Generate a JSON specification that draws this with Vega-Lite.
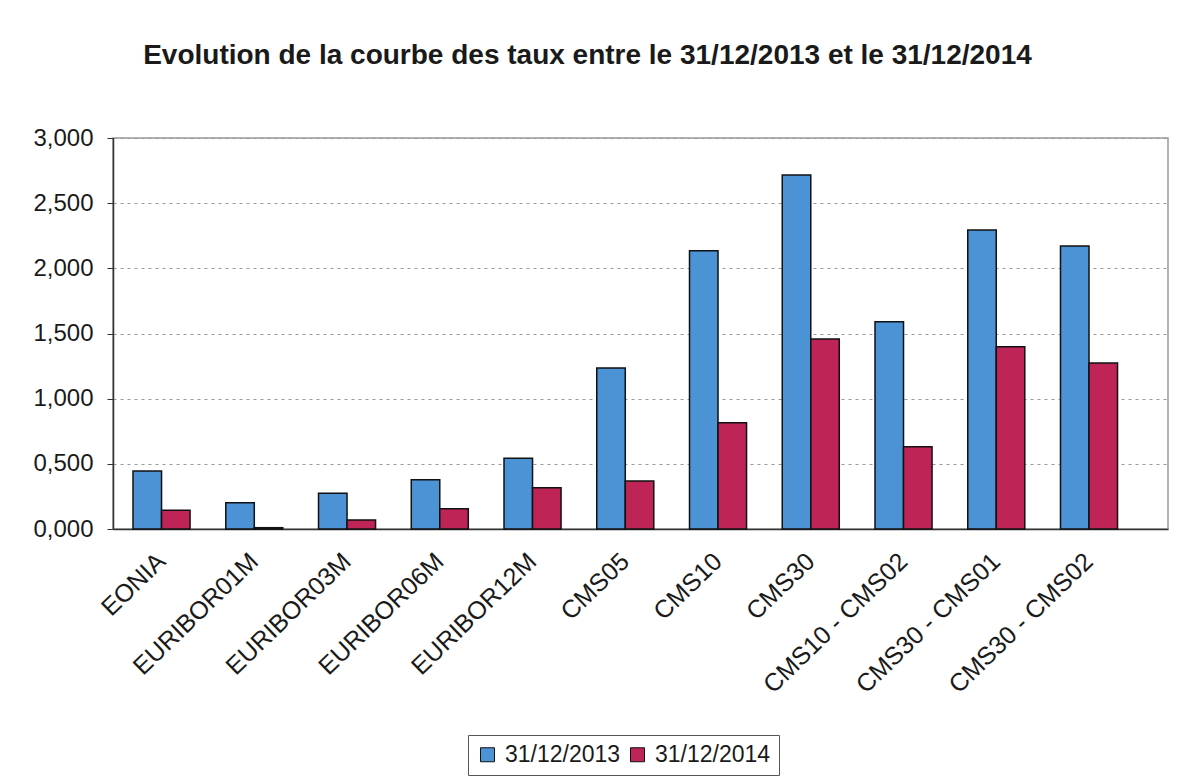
{
  "$schema": "https://vega.github.io/schema/vega-lite/v6.json",
  "autosize": "none",
  "width": 1055,
  "height": 391,
  "padding": {"left": 113, "top": 138, "right": 9, "bottom": 253},
  "background": "white",
  "title": {
    "text": "Evolution de la courbe des taux entre le 31/12/2013 et le 31/12/2014",
    "font": "Liberation Sans",
    "fontSize": 28,
    "fontWeight": "bold",
    "color": "#1a1a1a",
    "anchor": "middle",
    "dx": -53,
    "offset": 56
  },
  "data": {
    "values": [
      {"cat": "EONIA", "serie": "31/12/2013", "v": 0.445},
      {"cat": "EONIA", "serie": "31/12/2014", "v": 0.143},
      {"cat": "EURIBOR01M", "serie": "31/12/2013", "v": 0.202},
      {"cat": "EURIBOR01M", "serie": "31/12/2014", "v": 0.010},
      {"cat": "EURIBOR03M", "serie": "31/12/2013", "v": 0.274},
      {"cat": "EURIBOR03M", "serie": "31/12/2014", "v": 0.069},
      {"cat": "EURIBOR06M", "serie": "31/12/2013", "v": 0.378},
      {"cat": "EURIBOR06M", "serie": "31/12/2014", "v": 0.156},
      {"cat": "EURIBOR12M", "serie": "31/12/2013", "v": 0.543},
      {"cat": "EURIBOR12M", "serie": "31/12/2014", "v": 0.317},
      {"cat": "CMS05", "serie": "31/12/2013", "v": 1.235},
      {"cat": "CMS05", "serie": "31/12/2014", "v": 0.368},
      {"cat": "CMS10", "serie": "31/12/2013", "v": 2.134},
      {"cat": "CMS10", "serie": "31/12/2014", "v": 0.816},
      {"cat": "CMS30", "serie": "31/12/2013", "v": 2.717},
      {"cat": "CMS30", "serie": "31/12/2014", "v": 1.458},
      {"cat": "CMS10 - CMS02", "serie": "31/12/2013", "v": 1.591},
      {"cat": "CMS10 - CMS02", "serie": "31/12/2014", "v": 0.632},
      {"cat": "CMS30 - CMS01", "serie": "31/12/2013", "v": 2.295},
      {"cat": "CMS30 - CMS01", "serie": "31/12/2014", "v": 1.399},
      {"cat": "CMS30 - CMS02", "serie": "31/12/2013", "v": 2.172},
      {"cat": "CMS30 - CMS02", "serie": "31/12/2014", "v": 1.274}
    ]
  },
  "mark": {"type": "bar", "stroke": "#111111", "strokeWidth": 1.5},
  "encoding": {
    "x": {
      "field": "cat",
      "type": "nominal",
      "sort": null,
      "title": null,
      "scale": {"paddingInner": 0.385, "paddingOuter": 0.38, "align": 0.284},
      "axis": {
        "labelAngle": -44,
        "labelAlign": "right",
        "labelBaseline": "middle",
        "labelFont": "Liberation Sans",
        "labelFontSize": 25,
        "labelColor": "#1a1a1a",
        "labelPadding": 28,
        "labelLimit": 400,
        "ticks": false,
        "domainColor": "#333333",
        "domainWidth": 1.5,
        "labelOverlap": false
      }
    },
    "xOffset": {"field": "serie", "type": "nominal", "scale": {"paddingInner": 0, "paddingOuter": 0}},
    "y": {
      "field": "v",
      "type": "quantitative",
      "title": null,
      "scale": {"domain": [0, 3], "nice": false},
      "axis": {
        "values": [0, 0.5, 1, 1.5, 2, 2.5, 3],
        "labelExpr": "replace(format(datum.value, ',.3f'), '.', ',')",
        "labelFont": "Liberation Sans",
        "labelFontSize": 24,
        "labelColor": "#1a1a1a",
        "labelPadding": 14,
        "tickSize": 6,
        "tickColor": "#333333",
        "domainColor": "#333333",
        "domainWidth": 1.5,
        "grid": true,
        "gridColor": "#999999",
        "gridDash": [3, 4],
        "gridWidth": 1.2
      }
    },
    "fill": {
      "field": "serie",
      "type": "nominal",
      "scale": {"domain": ["31/12/2013", "31/12/2014"], "range": ["#4B93D5", "#BE2456"]},
      "legend": {
        "title": null,
        "orient": "none",
        "direction": "horizontal",
        "legendX": 355,
        "legendY": 597,
        "symbolType": "square",
        "symbolSize": 196,
        "symbolStrokeColor": "#111111",
        "symbolStrokeWidth": 1,
        "labelFont": "Liberation Sans",
        "labelFontSize": 23,
        "labelColor": "#1a1a1a",
        "labelOffset": 6,
        "columnPadding": 5,
        "padding": 8,
        "strokeColor": "#555555",
        "fillColor": "white"
      }
    }
  },
  "config": {
    "view": {"stroke": "#999999", "strokeWidth": 1.5}
  }
}
